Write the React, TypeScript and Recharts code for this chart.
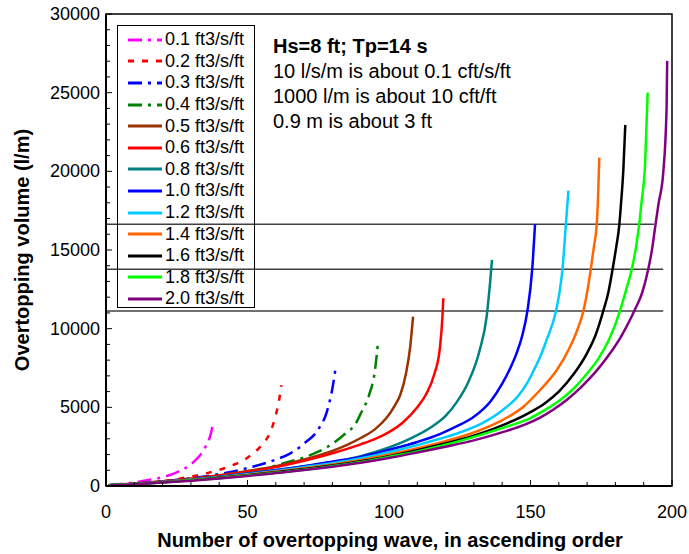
import { LineChart, Line, XAxis, YAxis, ReferenceLine, ReferenceArea } from 'recharts'

// overtopping volume (l/m) vs. wave number
const q01 = [[1, 40], [5, 120], [10, 230], [15, 380], [20, 560], [25, 870], [30, 1380], [33, 1900], [35, 2450], [37, 3300], [37.8, 3950]]
const q02 = [[1, 40], [10, 160], [20, 300], [25, 430], [30, 600], [35, 790], [40, 1030], [45, 1340], [50, 1800], [55, 2600], [58, 3400], [60, 4500], [61, 5300], [62, 6400]]
const q03 = [[1, 40], [10, 140], [20, 300], [30, 490], [40, 760], [45, 930], [50, 1140], [55, 1380], [60, 1680], [65, 2060], [70, 2700], [75, 3600], [78, 4700], [80, 6200], [81.2, 7580]]
const q04 = [[1, 40], [10, 130], [20, 270], [30, 430], [40, 620], [50, 880], [55, 1050], [60, 1300], [65, 1560], [70, 1820], [75, 2180], [80, 2680], [85, 3400], [88, 3900], [90, 4600], [93, 5800], [95, 7300], [96.2, 9280]]
const q05 = [[1, 40], [10, 150], [20, 300], [30, 470], [40, 680], [50, 950], [60, 1250], [70, 1680], [80, 2230], [85, 2600], [90, 3050], [95, 3600], [99, 4300], [102, 5100], [104, 5800], [106, 7150], [107.5, 8850], [108.5, 10760]]
const q06 = [[1, 40], [10, 140], [20, 290], [30, 450], [40, 650], [50, 900], [60, 1200], [70, 1600], [80, 2080], [90, 2650], [95, 2980], [100, 3420], [105, 4050], [110, 5000], [113, 5800], [116, 7100], [118, 8800], [118.9, 10800], [119.2, 11930]]
const q08 = [[1, 40], [10, 130], [20, 260], [30, 410], [40, 590], [50, 800], [60, 1020], [70, 1250], [80, 1530], [90, 1900], [100, 2450], [105, 2800], [110, 3230], [115, 3750], [120, 4450], [124, 5350], [128, 6600], [132, 8600], [134.5, 10760], [135.7, 12900], [136.4, 14370]]
const q10 = [[1, 40], [10, 130], [20, 270], [30, 410], [40, 580], [50, 780], [60, 1000], [70, 1260], [80, 1550], [90, 1850], [100, 2300], [110, 2800], [118, 3300], [124, 3800], [130, 4400], [136, 5400], [140, 6500], [143, 7550], [145, 8400], [147, 9500], [148.9, 11120], [150.6, 13770], [151.6, 16640]]
const q12 = [[1, 40], [10, 130], [20, 260], [30, 400], [40, 560], [50, 750], [60, 960], [70, 1200], [80, 1450], [90, 1760], [100, 2150], [110, 2600], [118, 3000], [125, 3400], [133, 4000], [140, 4800], [146, 5800], [149, 6600], [151, 7300], [153.5, 8250], [155.7, 9280], [159, 11120], [160.4, 12500], [161.3, 13770], [162.5, 16630], [163.4, 18770]]
const q14 = [[1, 40], [10, 120], [20, 250], [30, 390], [40, 540], [50, 720], [60, 920], [70, 1130], [80, 1370], [90, 1650], [100, 2000], [110, 2400], [118, 2750], [130, 3400], [139, 4090], [147.5, 5040], [153.4, 6100], [159.3, 7370], [164, 8850], [166.5, 9900], [168.7, 11120], [170, 12300], [171.3, 13770], [172.4, 15200], [173.4, 16630], [173.9, 18500], [174.3, 20870]]
const q16 = [[1, 40], [10, 120], [20, 240], [30, 370], [40, 520], [50, 690], [60, 880], [70, 1080], [80, 1300], [90, 1570], [100, 1900], [110, 2280], [118, 2620], [130, 3200], [140, 3850], [150, 4700], [155, 5250], [160, 6000], [165, 7050], [170, 8450], [173, 9600], [175.7, 11120], [177.5, 12300], [179, 13770], [180.3, 15200], [181.4, 16630], [181.9, 17750], [182.8, 20080], [183.5, 22950]]
const q18 = [[1, 40], [10, 120], [20, 230], [30, 360], [40, 500], [50, 660], [60, 840], [70, 1030], [80, 1260], [90, 1520], [100, 1850], [110, 2200], [120, 2620], [130, 3120], [141.6, 3770], [150, 4320], [155, 4820], [160, 5400], [165, 6150], [170, 7150], [174, 8100], [178, 9400], [181.6, 11120], [184, 12600], [185.8, 13770], [187.3, 15200], [188.4, 16630], [189.2, 17970], [190.5, 20510], [191.4, 25000]]
const q20 = [[1, 30], [10, 110], [20, 220], [30, 340], [40, 480], [50, 640], [60, 820], [70, 1010], [80, 1230], [90, 1480], [100, 1780], [110, 2130], [120, 2500], [130, 2900], [141.6, 3500], [148, 3900], [153.4, 4350], [158, 4850], [163, 5500], [168, 6300], [173, 7250], [178, 8400], [182, 9500], [185, 10500], [187, 11250], [189.5, 12300], [191.6, 13770], [193, 15100], [194, 16400], [195.2, 17900], [196.9, 19900], [198.1, 24100], [198.3, 27020]]

// horizontal guide lines: level and right end (wave number)
const guideLevels = [16630, 13770, 11120]
const guideEnds = [193.6, 196.9, 196.9]

const xTicks = Array.from({ length: 21 }, (_, i) => i * 10)
const yTicks = Array.from({ length: 31 }, (_, i) => i * 1000)

const SERIES = [
  { name: '0.1 ft3/s/ft', data: q01, color: '#ff00ff', dash: '14 6 3 6' },
  { name: '0.2 ft3/s/ft', data: q02, color: '#ff0000', dash: '6 8' },
  { name: '0.3 ft3/s/ft', data: q03, color: '#0000ff', dash: '14 6 3 6' },
  { name: '0.4 ft3/s/ft', data: q04, color: '#008000', dash: '14 6 3 6' },
  { name: '0.5 ft3/s/ft', data: q05, color: '#993300', dash: undefined },
  { name: '0.6 ft3/s/ft', data: q06, color: '#ff0000', dash: undefined },
  { name: '0.8 ft3/s/ft', data: q08, color: '#008080', dash: undefined },
  { name: '1.0 ft3/s/ft', data: q10, color: '#0000ff', dash: undefined },
  { name: '1.2 ft3/s/ft', data: q12, color: '#00ccff', dash: undefined },
  { name: '1.4 ft3/s/ft', data: q14, color: '#ff6600', dash: undefined },
  { name: '1.6 ft3/s/ft', data: q16, color: '#000000', dash: undefined },
  { name: '1.8 ft3/s/ft', data: q18, color: '#00ff00', dash: undefined },
  { name: '2.0 ft3/s/ft', data: q20, color: '#800080', dash: undefined },
]

const FONT = '"Liberation Sans", Arial, sans-serif'

const YTick = (props: any) => {
  const { x, y, payload } = props
  const major = payload.value % 5000 === 0
  return (
    <g>
      <line x1={x} x2={x + (major ? 6 : 4)} y1={y} y2={y} stroke="#000" strokeWidth={1} />
      {major && (
        <text x={x - 6} y={y} dy={6} textAnchor="end" fontSize={18} fontFamily={FONT} fill="#000">
          {payload.value}
        </text>
      )}
    </g>
  )
}

const XTick = (props: any) => {
  const { x, y, payload } = props
  const major = payload.value % 50 === 0
  return (
    <g>
      <line x1={x} x2={x} y1={y} y2={y - (major ? 6 : 4)} stroke="#000" strokeWidth={1} />
      {major && (
        <text x={x} y={y} dy={32} textAnchor="middle" fontSize={18} fontFamily={FONT} fill="#000">
          {payload.value}
        </text>
      )}
    </g>
  )
}

const LegendBox = () => (
  <div
    style={{
      position: 'absolute',
      left: 117,
      top: 25,
      width: 138,
      height: 283,
      border: '1px solid #000',
      boxSizing: 'border-box',
      paddingTop: 3,
    }}
  >
    {SERIES.map((s) => (
      <div key={s.name} style={{ height: 21.6, display: 'flex', alignItems: 'center' }}>
        <svg width={46} height={10} style={{ flexShrink: 0 }}>
          <line x1={10} x2={44} y1={5} y2={5} stroke={s.color} strokeWidth={3} strokeDasharray={s.dash} />
        </svg>
        <span style={{ fontSize: 18, color: '#000', marginLeft: 1, whiteSpace: 'nowrap' }}>{s.name}</span>
      </div>
    ))}
  </div>
)

export default function App() {
  return (
    <div style={{ position: 'absolute', left: 0, top: 0, width: 689, height: 554, background: '#fff', fontFamily: FONT }}>
      <LineChart width={689} height={554} margin={{ top: 14, right: 17, left: 0, bottom: 0 }}>
        <XAxis
          type="number"
          dataKey="x"
          domain={[0, 200]}
          ticks={xTicks}
          interval={0}
          height={68}
          tickSize={0}
          tickMargin={0}
          tickLine={false}
          tick={<XTick />}
          axisLine={{ stroke: '#000', strokeWidth: 2 }}
          allowDataOverflow
        />
        <YAxis
          type="number"
          dataKey="y"
          domain={[0, 30000]}
          ticks={yTicks}
          interval={0}
          width={106}
          tickSize={0}
          tickMargin={0}
          tickLine={false}
          tick={<YTick />}
          axisLine={{ stroke: '#000', strokeWidth: 2 }}
          allowDataOverflow
        />
        <ReferenceArea x1={0} x2={200} y1={0} y2={30000} fill="none" stroke="#000" strokeWidth={1.5} />
        {guideLevels.map((lv, i) => (
          <ReferenceLine
            key={lv}
            segment={[{ x: 0, y: lv }, { x: guideEnds[i], y: lv }]}
            stroke="#404040"
            strokeWidth={1.5}
          />
        ))}
        {SERIES.map((s) => (
          <Line
            key={s.name}
            name={s.name}
            data={s.data.map(([x, y]) => ({ x, y }))}
            dataKey="y"
            type="monotone"
            stroke={s.color}
            strokeWidth={2.5}
            strokeDasharray={s.dash}
            dot={false}
            activeDot={false}
            isAnimationActive={false}
          />
        ))}
      </LineChart>

      <LegendBox />

      <div style={{ position: 'absolute', left: 273, top: 34, fontSize: 20, lineHeight: '25px', color: '#000', whiteSpace: 'nowrap' }}>
        <div style={{ fontWeight: 'bold' }}>Hs=8 ft; Tp=14 s</div>
        <div>10 l/s/m is about 0.1 cft/s/ft</div>
        <div>1000 l/m is about 10 cft/ft</div>
        <div>0.9 m is about 3 ft</div>
      </div>

      <div
        style={{
          position: 'absolute',
          left: 22,
          top: 250,
          transform: 'translate(-50%, -50%) rotate(-90deg)',
          fontSize: 20,
          fontWeight: 'bold',
          whiteSpace: 'nowrap',
          color: '#000',
        }}
      >
        Overtopping volume (l/m)
      </div>
      <div
        style={{
          position: 'absolute',
          left: 390,
          top: 540,
          transform: 'translate(-50%, -50%)',
          fontSize: 20,
          fontWeight: 'bold',
          whiteSpace: 'nowrap',
          color: '#000',
        }}
      >
        Number of overtopping wave, in ascending order
      </div>
    </div>
  )
}
